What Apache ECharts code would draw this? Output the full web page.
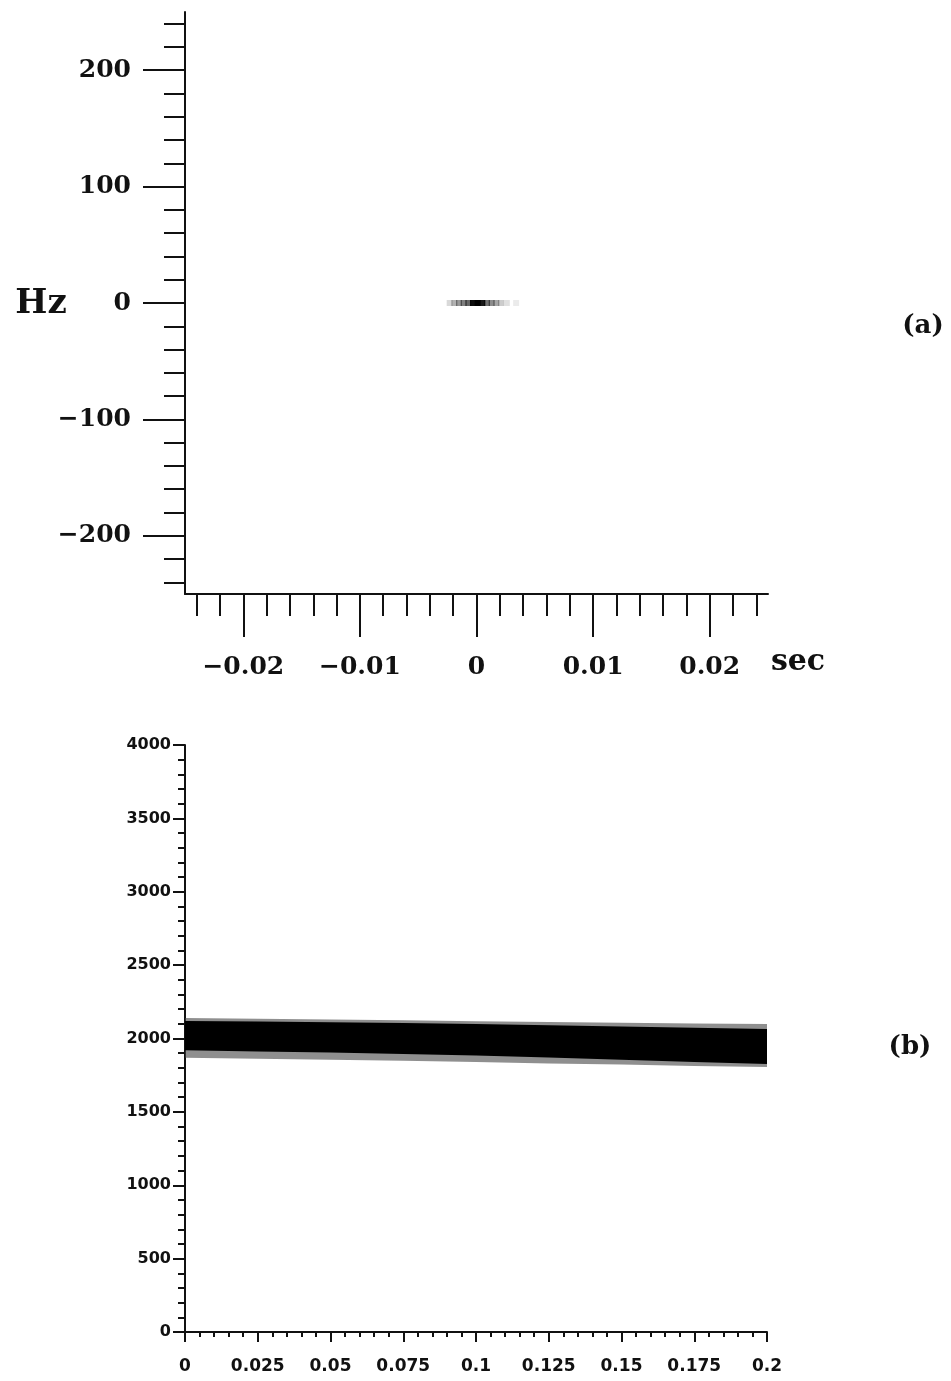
<!DOCTYPE html>
<html>
<head>
<meta charset="utf-8">
<script src="https://cdn.jsdelivr.net/npm/echarts@6/dist/echarts.min.js"></script>
<style>
  html, body { margin: 0; padding: 0; background: #fff; }
  #chart { width: 951px; height: 1381px; }
</style>
</head>
<body>
<div id="chart"></div>
<script>
// panel (a): time-frequency blob around t = 0
let topXMajor = [-0.02, -0.01, 0, 0.01, 0.02]
let topXMinor = [-0.024, -0.022, -0.018, -0.016, -0.014, -0.012, -0.008, -0.006, -0.004, -0.002,
                 0.002, 0.004, 0.006, 0.008, 0.012, 0.014, 0.016, 0.018, 0.022, 0.024]
let topYMajor = [-200, -100, 0, 100, 200]
let topYMinor = [-240, -220, -180, -160, -140, -120, -80, -60, -40, -20,
                 20, 40, 60, 80, 120, 140, 160, 180, 220, 240]
let blobTime = [-0.0023, -0.0019, -0.0015, -0.0011, -0.0007, -0.0003, 0.0001, 0.0005, 0.0009, 0.0013, 0.0017, 0.0021, 0.0026, 0.0034]
let blobShade = [0.15, 0.3, 0.4, 0.5, 0.6, 0.95, 1, 0.9, 0.55, 0.45, 0.35, 0.2, 0.12, 0.08]

// panel (b): frequency band envelope, Hz
let bandTime = [0, 0.025, 0.05, 0.075, 0.1, 0.125, 0.15, 0.175, 0.2]
let coreTop = [2120, 2115, 2110, 2105, 2098, 2090, 2082, 2074, 2065]
let coreBottom = [1920, 1912, 1905, 1895, 1885, 1870, 1855, 1840, 1826]
let fringeTop = [2140, 2135, 2130, 2125, 2118, 2112, 2108, 2103, 2099]
let fringeBottom = [1868, 1862, 1855, 1848, 1840, 1830, 1822, 1813, 1805]

let ink = '#111'
let serif = '"DejaVu Serif", "Liberation Serif", serif'
let minus = v => String(v).replace('-', '\u2212')

let chart = echarts.init(document.getElementById('chart'))

// one polygon per envelope, drawn once through the axis scales
function bandRender (params, api) {
  if (params.dataIndex !== 0) return null
  let poly = (top, bottom) => {
    let up = bandTime.map((t, i) => api.coord([t, top[i]]))
    let down = bandTime.map((t, i) => api.coord([t, bottom[i]])).reverse()
    return up.concat(down)
  }
  return {
    type: 'group',
    children: [
      { type: 'polygon', shape: { points: poly(fringeTop, fringeBottom) }, style: { fill: '#444', opacity: 0.6 } },
      { type: 'polygon', shape: { points: poly(coreTop, coreBottom) }, style: { fill: '#000' } }
    ]
  }
}

chart.setOption({
  animation: false,
  backgroundColor: '#fff',
  grid: [
    { left: 185, right: 183, top: 12, bottom: 787 },
    { left: 185, right: 184, top: 745, bottom: 49 }
  ],
  xAxis: [
    {
      gridIndex: 0, type: 'value', position: 'bottom', min: -0.025, max: 0.025,
      axisLine: { show: true, onZero: false, lineStyle: { color: ink, width: 2 } },
      axisTick: { show: true, customValues: topXMajor, length: 43, lineStyle: { color: ink, width: 2 } },
      axisLabel: {
        customValues: topXMajor, margin: 61, formatter: minus,
        color: ink, fontFamily: serif, fontWeight: 'bold', fontSize: 25
      },
      splitLine: { show: false }
    },
    {
      gridIndex: 0, type: 'value', position: 'bottom', min: -0.025, max: 0.025,
      axisLine: { show: false, onZero: false },
      axisTick: { show: true, customValues: topXMinor, length: 22, lineStyle: { color: ink, width: 2 } },
      axisLabel: { show: false },
      splitLine: { show: false }
    },
    {
      gridIndex: 1, type: 'value', position: 'bottom', min: 0, max: 0.2, interval: 0.025,
      axisLine: { show: true, onZero: false, lineStyle: { color: ink, width: 2 } },
      axisTick: { show: true, length: 10, lineStyle: { color: ink, width: 2 } },
      minorTick: { show: true, splitNumber: 5, length: 5, lineStyle: { color: ink, width: 2 } },
      axisLabel: {
        margin: 26, formatter: v => String(v),
        color: ink, fontFamily: '"DejaVu Sans", sans-serif', fontWeight: 'bold', fontSize: 17
      },
      splitLine: { show: false }
    }
  ],
  yAxis: [
    {
      gridIndex: 0, type: 'value', position: 'left', min: -250, max: 250,
      axisLine: { show: true, onZero: false, lineStyle: { color: ink, width: 2 } },
      axisTick: { show: true, customValues: topYMajor, length: 42, lineStyle: { color: ink, width: 2 } },
      axisLabel: {
        customValues: topYMajor, margin: 54, formatter: minus,
        color: ink, fontFamily: serif, fontWeight: 'bold', fontSize: 25
      },
      splitLine: { show: false }
    },
    {
      gridIndex: 0, type: 'value', position: 'left', min: -250, max: 250,
      axisLine: { show: false, onZero: false },
      axisTick: { show: true, customValues: topYMinor, length: 21, lineStyle: { color: ink, width: 2 } },
      axisLabel: { show: false },
      splitLine: { show: false }
    },
    {
      gridIndex: 1, type: 'value', position: 'left', min: 0, max: 4000, interval: 500,
      axisLine: { show: true, onZero: false, lineStyle: { color: ink, width: 2 } },
      axisTick: { show: true, length: 12, lineStyle: { color: ink, width: 2 } },
      minorTick: { show: true, splitNumber: 5, length: 7, lineStyle: { color: ink, width: 2 } },
      axisLabel: {
        margin: 14, formatter: v => String(v),
        color: ink, fontFamily: '"DejaVu Sans", sans-serif', fontWeight: 'bold', fontSize: 16
      },
      splitLine: { show: false }
    }
  ],
  series: [
    {
      type: 'scatter', xAxisIndex: 0, yAxisIndex: 0,
      symbol: 'rect', symbolSize: [6, 6],
      data: blobTime.map((t, i) => ({ value: [t, 0], itemStyle: { color: '#000', opacity: blobShade[i] } }))
    },
    {
      type: 'custom', xAxisIndex: 2, yAxisIndex: 2,
      renderItem: bandRender,
      data: bandTime.map((t, i) => [t, coreTop[i], coreBottom[i]]),
      encode: { x: 0, y: [1, 2] }
    }
  ],
  graphic: [
    { type: 'text', x: 41, y: 304, style: { text: 'Hz', font: 'bold 34px ' + serif, fill: ink, align: 'center', verticalAlign: 'middle' } },
    { type: 'text', x: 798, y: 662, style: { text: 'sec', font: 'bold 30px ' + serif, fill: ink, align: 'center', verticalAlign: 'middle' } },
    { type: 'text', x: 923, y: 326, style: { text: '(a)', font: 'bold 26px ' + serif, fill: ink, align: 'center', verticalAlign: 'middle' } },
    { type: 'text', x: 910, y: 1047, style: { text: '(b)', font: 'bold 26px ' + serif, fill: ink, align: 'center', verticalAlign: 'middle' } }
  ]
})
</script>
</body>
</html>
